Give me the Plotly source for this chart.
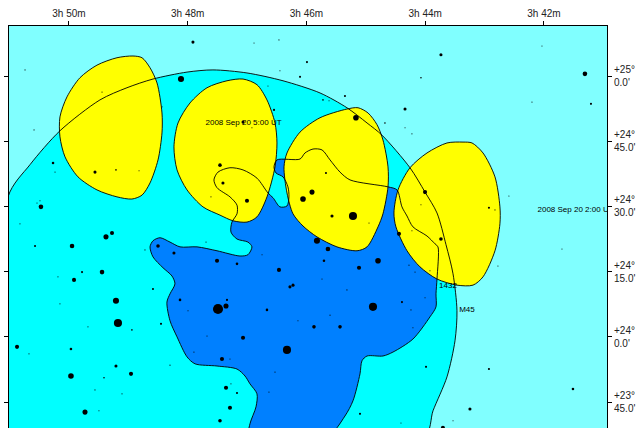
import plotly.graph_objects as go

# RA in seconds of time after 3h40m; Dec in arcminutes above +24 deg
ra_ticks = [600, 480, 360, 240, 120]
ra_labels = ["3h 50m", "3h 48m", "3h 46m", "3h 44m", "3h 42m"]
dec_ticks = [60, 45, 30, 15, 0, -15]
dec_labels = ["+25°<br>0.0'", "+24°<br>45.0'", "+24°<br>30.0'", "+24°<br>15.0'", "+24°<br>0.0'", "+23°<br>45.0'"]

penumbra_ra = [661.6,639.4,609.1,568.7,541.4,515.1,480.7,454.5,420.1,383.7,346.3,319.1,298.8,283.7,255.4,240.2,228.1,219,211.9,207.9,209.9,218,232.1,241.2,657.6,661.6]
penumbra_dec = [32.2,39.6,47.4,54.5,57.3,59.3,60.9,61.4,60.7,58.9,56.1,52.7,49.2,46.4,38.9,33.3,28.5,21.2,14.5,6,-0.9,-9.2,-17,-23,-23,-19.3]

umbra_ra = [435.3,436.3,430.2,419.1,415.1,419.1,427.2,450.4,470.6,487.8,497.9,508,515.1,518.1,515.1,505,495.9,492.9,497.9,501,497.9,490.8,480.7,472.6,450.4,430.2,422.1,417.1,410,411,417.1,418.1,339.3,321.1,313,305.9,303.9,298.8,282.7,272.6,252.4,235.2,229.1,229.1,228.1,227.1,230.1,238.2,252.4,258.4,263.5,268.5,277.6,316,326.1,336.2,344.3,353.4,361.5,366.5,389.8,392.8,390.8,383.7,378.7,377.7,379.7,386.8,393.8,398.9,410,424.1,437.3,449.4,453.5,450.4,437.3,430.2,430.2]
umbra_dec = [26.4,24.1,22.5,21.8,20.7,18.9,18.6,19.8,20.7,20.7,21.8,22.8,22.1,20.7,18.4,15.9,14,12.2,9.9,8,3.7,0,-4.6,-6.2,-6.7,-7.4,-9,-10.8,-13.1,-16.1,-20,-23,-23,-18.2,-14.7,-8.5,-5.5,-4.4,-4.4,-3.5,-0.5,4.6,6.9,9.9,13.3,20.7,21.4,23.2,25.3,27.8,29.9,33.8,34.5,36.1,37.9,40.7,43,43.2,42.3,40.9,40.7,39.1,37.7,36.8,34.5,32.2,30.1,29.9,32,33.1,36.5,38.4,38.9,37.9,36.1,34.3,32.2,30.3,28.3]

moon1_ra = [535.3,551.5,571.7,588.9,602,609.1,609.1,604,590.9,571.7,551.5,536.4,526.2,518.1,510,506,506,511,518.1,526.2]
moon1_dec = [64.6,64.2,62.5,59.6,55.2,50.6,46,41.4,36.8,33.8,32.2,31.7,32.6,35.4,40.7,46.9,51.5,58.4,61.9,64.2]
moon2_ra = [424.1,440.3,460.5,477.7,489.8,493.9,490.8,480.7,464.6,447.4,434.3,420.1,410,399.9,391.8,389.8,391.8,399.9,410]
moon2_dec = [59.3,58.9,57.3,53.8,49.2,43.7,38.4,33.8,29.9,28,26.7,26.4,27.6,32.2,39.1,44.6,49.2,54.5,58]
moon3_ra = [307.9,319.1,346.3,366.5,379.7,382.7,379.7,373.6,363.5,349.4,329.2,308.9,298.8,287.7,282.7,277.6,277.6,282.7,288.7,297.8]
moon3_dec = [52.7,52.4,50.4,47.1,42.3,39.1,33.1,28.3,25.5,23,20.7,19.8,20.7,25.3,28.3,34.5,39.1,45.3,48.8,51.5]
moon4_ra = [201.8,218,238.2,255.4,267.5,271.6,269.6,258.4,245.3,228.1,207.9,191.7,181.6,169.5,164.5,164.5,169.5,181.6,192.7]
moon4_dec = [44.8,44.6,42.3,38.9,33.8,28.5,25.3,19.8,16.1,13.3,11.9,11.9,13.8,19.8,26,29.9,36.8,42.3,44.6]

star_ra = [474.7,413,387.8,359.5,366.5,386.8,486.8,644.4,566.6,506,398.9,392.8,424.1,635.3,415.1,616.1,614.1,573.7,552.5,529.2,447.4,444.4,420.1,456.5,363.5,354.4,628.3,632.3,629.3,224.1,122,78.6,244.3,321.1,343.3,337.2,132.1,72.5,260.4,310,280.7,260.4,253.4,240.2,340.3,155.4,244.3,175.6,169.5,649.5,556.5,562.6,634.3,596.9,510,523.2,461.5,493.9,450.4,430.2,404.9,387.8,566.6,586.8,611.1,594.9,373.6,376.7,515.1,487.8,440.3,552.5,609.1,441.3,449.4,399.9,479.7,368.6,550.5,507,580.8,352.4,536.4,460.5,424.1,652.5,598,379.7,473.7,640.4,445.4,437.3,552.5,497.9,537.3,598,564.6,391.8,441.3,436.3,573.7,430.2,397.9,546.4,437.3,583.8,569.7,447.4,334.2,313,296.8,266.5,253.4,224.1,338.3,101.8,342.3,287.7,306.9,166.5,256.4,250.3,235.2,344.3,319.1,240.2,263.5,292.8,254.4,336.2,326.1,252.4,239.2,175.6,90.7,194.8,305.9,211.9,264.5,222.1,349.4]
star_dec = [67.8,67.6,68.3,63.2,59.8,61.2,59.3,61.4,56.3,52.9,57.7,52.2,49.4,47.6,48.1,40,37.9,37.9,38.4,38.2,39.5,35.4,31.3,32.2,31.7,33.3,29.9,30.8,31.3,64.9,66.9,60.5,59.6,55.4,54.5,54.3,54,53.6,52.4,50.4,49.2,48.1,46.7,33.3,37.7,32.4,30.4,29.7,29.2,26,23.9,23,20.9,20.9,20.9,20,21.8,19.3,17.5,16.8,18.9,15.4,14.9,14.9,13.8,13.1,11.9,11.5,11,8.5,8.5,8.3,7.6,7.1,6.4,6.2,6,3.7,3.2,3,2.3,2.3,1.6,0.2,-0.2,-2.3,-2.8,-3,-3.5,-3.9,-5.1,-5.1,-6.7,-6.5,-8.5,-9,-9.4,-8.1,-11.7,-10.8,-12.2,-12.9,-12.7,-13.1,-16.3,-17.3,-17,-19.3,27.8,27.8,26.2,23.7,24.4,22.5,20.2,20.2,17.5,17.5,15.9,16.3,16.5,14.9,15.2,13.3,10.8,9,8,6.9,6.2,5,2.3,2.1,-6.9,-7.4,-12,-16.6,-17.7,-19.3,-19.8,-20.9,22.1]
star_brightness = [3,1,1,2,2,1,6,1,1,1,1,2,3,1,1,2.5,1,3,1.5,1,3.5,3,4,1,5.5,5,4.5,1,1,3,1,4.5,1.5,2,1.5,1,1,2,3,5.5,1.5,1,1,4,2,1,1,2,1,1,4,5,2,4.5,3.5,1,1,3,4,2.5,1,4,4.5,2,1,4,3,3,2,2.5,2,6,1,5,10,2.5,1,1,8,2,1,3.5,1.5,1,4,4,2.5,8,1,1,4,1,3,1,4,5.5,1.5,1,4,1,1,2,1,1,4,5,1,3.5,3,8,1,4,1,3.5,4.5,1,2.5,5.5,4,1,1,1,1,1,1,1,2,8,1,1,3.5,1,2,2,2.5,3,2,1,1,4,6]

label_ra = [423.6, 88.1, 217, 197.8]
label_dec = [49.2, 29.2, 11.7, 6.2]
label_text = ["2008 Sep 20 5:00 UT", "2008 Sep 20 2:00 UT", "1432", "M45"]

LINE = "#000000"
FONT = "Liberation Sans"


def closed(v):
    return v + v[:1]


def region(ra, dec, colour):
    return go.Scatter(x=closed(ra), y=closed(dec), mode="lines", fill="toself", fillcolor=colour,
                      line=dict(width=0, shape="spline", smoothing=0.8, color=colour), hoverinfo="skip")


def outline(ra, dec, width=0.9):
    return go.Scatter(x=closed(ra), y=closed(dec), mode="lines",
                      line=dict(width=width, shape="spline", smoothing=0.8, color=LINE), hoverinfo="skip")


fig = go.Figure()
fig.add_trace(region(penumbra_ra, penumbra_dec, "#00FFFF"))
fig.add_trace(region(umbra_ra, umbra_dec, "#0080FF"))
for ra, dec in [(moon1_ra, moon1_dec), (moon2_ra, moon2_dec), (moon3_ra, moon3_dec), (moon4_ra, moon4_dec)]:
    fig.add_trace(region(ra, dec, "#FFFF00"))
    fig.add_trace(outline(ra, dec))
fig.add_trace(outline(penumbra_ra, penumbra_dec))
fig.add_trace(outline(umbra_ra, umbra_dec))
fig.add_trace(go.Scatter(x=star_ra, y=star_dec, mode="markers",
                         marker=dict(color="#000000", opacity=1, size=[b * 1.0 + 0.1 for b in star_brightness], line=dict(width=0))))
fig.add_trace(go.Scatter(x=label_ra, y=label_dec, mode="text", text=label_text, textposition="middle center",
                         textfont=dict(family=FONT, size=8, color="#000000"), cliponaxis=True))

fig.update_layout(
    width=639, height=428, margin=dict(l=9, r=32, t=26, b=0), showlegend=False,
    paper_bgcolor="#FFFFFF", plot_bgcolor="#80FFFF", font=dict(family=FONT, size=10, color="#222222"),
    xaxis=dict(range=[660.6, 56.3], side="top", tickmode="array", tickvals=ra_ticks, ticktext=ra_labels,
               ticks="outside", ticklen=4, tickcolor="#000000", tickwidth=1, showgrid=False, zeroline=False,
               showline=True, linecolor="#000000", linewidth=1, mirror=False),
    yaxis=dict(range=[-20.96, 71.5], side="right", tickmode="array", tickvals=dec_ticks, ticktext=dec_labels,
               ticks="outside", ticklen=4, tickcolor="#000000", tickwidth=1, showgrid=False, zeroline=False,
               showline=True, linecolor="#000000", linewidth=1, mirror="ticks"),
)
fig.write_html("out.html", post_script="document.body.style.margin='0';", config={"displayModeBar": False})
